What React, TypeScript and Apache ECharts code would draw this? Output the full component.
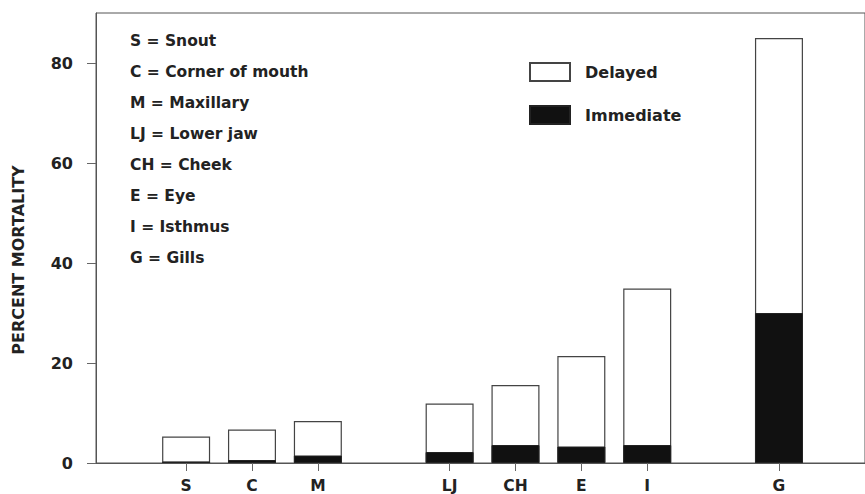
import React, { useEffect, useRef } from "react";
import * as echarts from "echarts";

// Slots along the x axis ('' = empty gap slot)
const slots = ["S", "C", "M", "", "LJ", "CH", "E", "I", "", "G"];
const categories = ["S", "C", "M", "LJ", "CH", "E", "I", "G"];
const immediate = [0.3, 0.6, 1.5, 2.2, 3.6, 3.3, 3.6, 30.0];
const delayed = [5.0, 6.1, 6.9, 9.7, 12.0, 18.1, 31.3, 55.0];
const yTicks = [0, 20, 40, 60, 80];
const keyLabels = [
  "S = Snout",
  "C = Corner of mouth",
  "M = Maxillary",
  "LJ = Lower jaw",
  "CH = Cheek",
  "E = Eye",
  "I = Isthmus",
  "G = Gills",
];
const yTitle = "PERCENT MORTALITY";

const FONT = "DejaVu Sans";

export default function App() {
  const ref = useRef<HTMLDivElement>(null);
  useEffect(() => {
    if (!ref.current) return;
    const chart = echarts.init(ref.current, null, { renderer: "svg" });
    const pos = categories.map((c) => slots.indexOf(c) + 1);
    const labelMap: Record<number, string> = {};
    pos.forEach((p, i) => (labelMap[p] = categories[i]));
    // stacked top of the Delayed segment = Immediate + Delayed
    const stackedTop = immediate.map((v, i) => v + delayed[i]);

    const option: any = {
      animation: false,
      backgroundColor: "#fff",
      grid: {
        left: 96,
        top: 13,
        right: -5,
        bottom: 30,
        show: true,
        borderColor: "#555",
        borderWidth: 1,
        backgroundColor: "transparent",
      },
      legend: {
        data: ["Delayed", "Immediate"],
        orient: "vertical",
        left: 529,
        top: 62,
        padding: 0,
        icon: "rect",
        itemWidth: 40,
        itemHeight: 18,
        itemGap: 23,
        textStyle: {
          fontFamily: FONT,
          fontWeight: "bold",
          fontSize: 16,
          color: "#222",
          lineHeight: 18,
          padding: [0, 0, 0, 10],
        },
      },
      xAxis: {
        type: "value",
        min: -0.368,
        max: 11.306,
        splitLine: { show: false },
        axisLine: {
          show: true,
          onZero: false,
          lineStyle: { color: "#555", width: 1 },
        },
        axisTick: {
          show: true,
          length: 8,
          customValues: pos,
          lineStyle: { color: "#666" },
        },
        axisLabel: {
          customValues: pos,
          formatter: (v: number) => labelMap[Math.round(v)] ?? "",
          margin: 15,
          fontFamily: FONT,
          fontWeight: "bold",
          fontSize: 15.5,
          color: "#222",
        },
      },
      yAxis: {
        type: "value",
        min: 0,
        max: 90,
        splitLine: { show: false },
        axisLine: {
          show: true,
          onZero: false,
          lineStyle: { color: "#555", width: 1 },
        },
        axisTick: {
          show: true,
          length: 9,
          customValues: yTicks,
          lineStyle: { color: "#666" },
        },
        axisLabel: {
          customValues: yTicks,
          margin: 23,
          fontFamily: FONT,
          fontWeight: "bold",
          fontSize: 16,
          color: "#222",
        },
      },
      series: [
        {
          name: "Delayed",
          type: "bar",
          barWidth: 48,
          barGap: "-100%",
          data: pos.map((p, i) => [p, stackedTop[i]]),
          itemStyle: { color: "#fff", borderColor: "#444", borderWidth: 1.2 },
        },
        {
          name: "Immediate",
          type: "bar",
          barWidth: 48,
          barGap: "-100%",
          data: pos.map((p, i) => [p, immediate[i]]),
          itemStyle: { color: "#111", borderColor: "#222", borderWidth: 1 },
        },
      ],
      graphic: [
        ...keyLabels.map((t, i) => ({
          type: "text",
          x: 130,
          y: 41 + i * 31,
          style: {
            text: t,
            fontFamily: FONT,
            fontWeight: "bold",
            fontSize: 15.5,
            fill: "#222",
            verticalAlign: "middle",
          },
        })),
        {
          type: "text",
          x: 18,
          y: 260,
          rotation: Math.PI / 2,
          style: {
            text: yTitle,
            fontFamily: FONT,
            fontWeight: "bold",
            fontSize: 16,
            fill: "#222",
            align: "center",
            verticalAlign: "middle",
          },
        },
      ],
    };
    chart.setOption(option);
    return () => chart.dispose();
  }, []);
  return (
    <div
      ref={ref}
      style={{ position: "fixed", left: 0, top: 0, width: 865, height: 494 }}
    />
  );
}
